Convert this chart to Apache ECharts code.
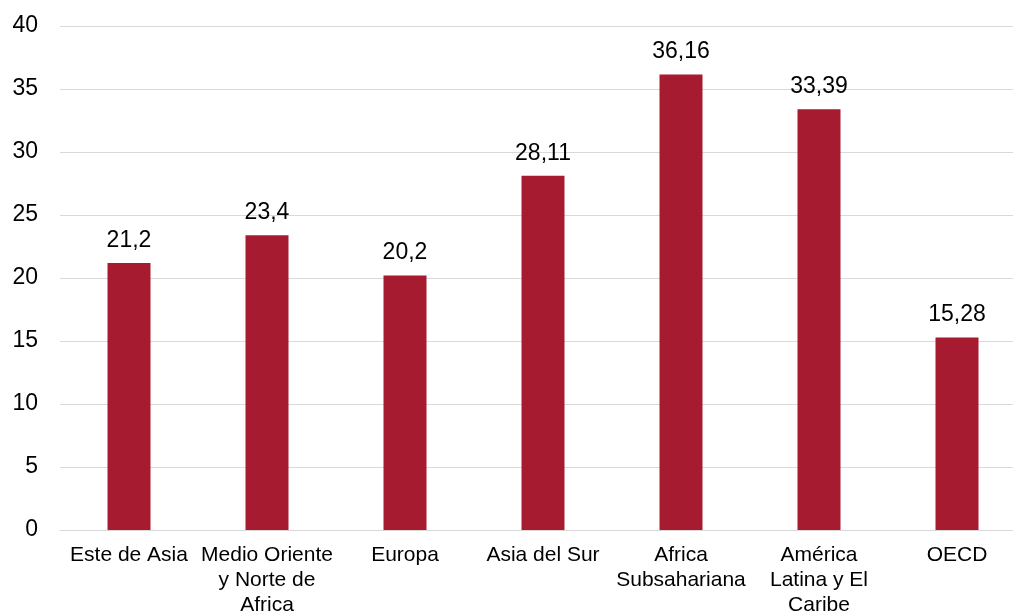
<!DOCTYPE html>
<html>
<head>
<meta charset="utf-8">
<script src="https://cdn.jsdelivr.net/npm/echarts@6/dist/echarts.min.js"></script>
<style>html,body{margin:0;padding:0;background:#fff;}#c{width:1013px;height:613px;}</style>
</head>
<body>
<div id="c"></div>
<script>
const categories = ["Este de Asia", "Medio Oriente\ny Norte de\nAfrica", "Europa", "Asia del Sur", "Africa\nSubsahariana", "América\nLatina y El\nCaribe", "OECD"];
const values = [21.2, 23.4, 20.2, 28.11, 36.16, 33.39, 15.28];
const yTicks = { min: 0, max: 40, interval: 5 };

const chart = echarts.init(document.getElementById('c'), null, { renderer: 'canvas' });
const font = '"Liberation Sans", Arial, sans-serif';
chart.setOption({
  animation: false,
  backgroundColor: '#ffffff',
  grid: { left: 60, top: 26, width: 966, height: 504, containLabel: false, outerBoundsMode: 'none' },
  xAxis: {
    type: 'category',
    data: categories,
    axisLine: { show: true, lineStyle: { color: '#d9d9d9', width: 1 } },
    axisTick: { show: false },
    axisLabel: { color: '#000', fontFamily: font, fontSize: 21, lineHeight: 25, margin: 13, interval: 0 }
  },
  yAxis: {
    type: 'value',
    min: yTicks.min, max: yTicks.max, interval: yTicks.interval,
    axisLine: { show: false },
    axisTick: { show: false },
    splitLine: { lineStyle: { color: '#d9d9d9', width: 1 } },
    axisLabel: { color: '#000', fontFamily: font, fontSize: 23, margin: 22 }
  },
  series: [{
    type: 'bar',
    data: values,
    barWidth: 43,
    itemStyle: { color: '#A61B30' },
    label: {
      show: true, position: 'top', distance: 11,
      color: '#000', fontFamily: font, fontSize: 23,
      formatter: p => String(p.value).replace('.', ',')
    }
  }]
});
</script>
</body>
</html>
